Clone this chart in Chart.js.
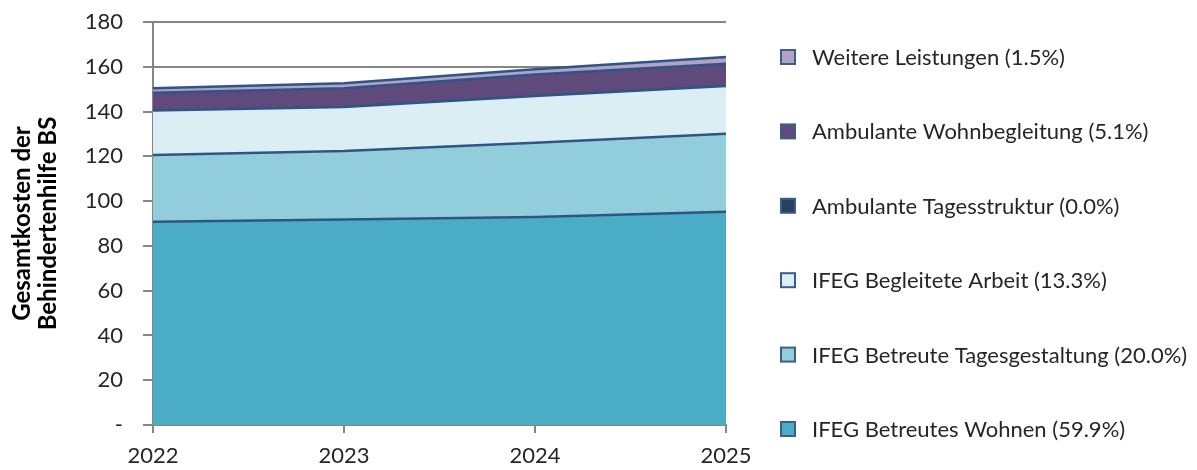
<!DOCTYPE html>
<html>
<head>
<meta charset="utf-8">
<script src="https://cdn.jsdelivr.net/npm/chart.js@4"></script>
<style>
  html, body { margin: 0; padding: 0; background: #fff; }
  #wrap { width: 1197px; height: 470px; }
</style>
</head>
<body>
<div id="wrap"><canvas id="myChart" width="1197" height="470"></canvas></div>
<script>
const years = ['2022', '2023', '2024', '2025'];

const seriesNames = [
  'IFEG Betreutes Wohnen (59.9%)',
  'IFEG Betreute Tagesgestaltung (20.0%)',
  'IFEG Begleitete Arbeit (13.3%)',
  'Ambulante Tagesstruktur (0.0%)',
  'Ambulante Wohnbegleitung (5.1%)',
  'Weitere Leistungen (1.5%)'
];

const betreutesWohnen = [90.8, 91.8, 92.9, 95.3];
const tagesgestaltung = [29.8, 30.6, 33.2, 34.8];
const begleiteteArbeit = [19.9, 19.6, 20.8, 21.3];
const tagesstruktur = [0, 0, 0, 0];
const wohnbegleitung = [7.9, 8.4, 9.6, 10.0];
const weitere = [2.0, 2.2, 2.4, 3.0];

const yTicks = [0, 20, 40, 60, 80, 100, 120, 140, 160, 180];

const seriesValues = [betreutesWohnen, tagesgestaltung, begleiteteArbeit, tagesstruktur, wohnbegleitung, weitere];
const colors = ['#4BACC6', '#92CDDC', '#DAEEF3', '#254061', '#604A7B', '#B3A2C7'];
const edge = '#2f5586';

Chart.defaults.font.family = 'Lato';
Chart.defaults.color = '#262626';

// legend drawn by hand so it can sit in the wide right margin like the original
const sideLegend = {
  id: 'sideLegend',
  afterDraw(chart) {
    const ctx = chart.ctx;
    const sets = chart.data.datasets.slice().reverse();
    ctx.save();
    ctx.font = '22px Lato';
    ctx.textBaseline = 'middle';
    sets.forEach((ds, i) => {
      const y = 57 + i * 74.4;
      ctx.fillStyle = ds.backgroundColor;
      ctx.fillRect(781, y - 7, 14, 14);
      ctx.strokeStyle = '#3a5f8b';
      ctx.lineWidth = 2;
      ctx.strokeRect(781, y - 7, 14, 14);
      ctx.fillStyle = '#262626';
      ctx.fillText(ds.label, 812, y + 1);
    });
    ctx.restore();
  }
};

new Chart(document.getElementById('myChart'), {
  type: 'line',
  data: {
    labels: years,
    datasets: seriesValues.map((vals, i) => ({
      label: seriesNames[i],
      data: vals,
      backgroundColor: colors[i],
      borderColor: edge,
      borderWidth: 2.5,
      pointRadius: 0,
      tension: 0,
      fill: i === 0 ? 'origin' : '-1'
    }))
  },
  options: {
    responsive: false,
    animation: false,
    layout: { padding: { left: 6, right: 471, top: 22, bottom: 0 } },
    plugins: {
      legend: { display: false },
      tooltip: { enabled: false }
    },
    scales: {
      x: {
        offset: false,
        grid: { drawOnChartArea: false, color: '#868686', lineWidth: 2, tickLength: 8 },
        border: { color: '#868686', width: 2 },
        ticks: { font: { size: 22 }, padding: 10, maxRotation: 0, color: '#262626' },
        afterFit(s) { s.height = 45; }
      },
      y: {
        stacked: true,
        min: 0,
        max: 180,
        afterBuildTicks(s) { s.ticks = yTicks.map(v => ({ value: v })); },
        grid: { color: '#868686', lineWidth: 2, tickLength: 10 },
        border: { color: '#868686', width: 2 },
        ticks: {
          font: { size: 22 },
          padding: 20,
          color: '#262626',
          callback: v => (v === 0 ? '-' : v)
        },
        title: {
          display: true,
          text: ['Gesamtkosten der', 'Behindertenhilfe BS'],
          font: { size: 24, weight: 'bold', lineHeight: 1.1 },
          color: '#000',
          padding: { top: 3, bottom: 0 }
        },
        afterFit(s) { s.width = 147; s.paddingTop = 0; s.paddingBottom = 0; }
      }
    }
  },
  plugins: [sideLegend]
});
</script>
</body>
</html>
